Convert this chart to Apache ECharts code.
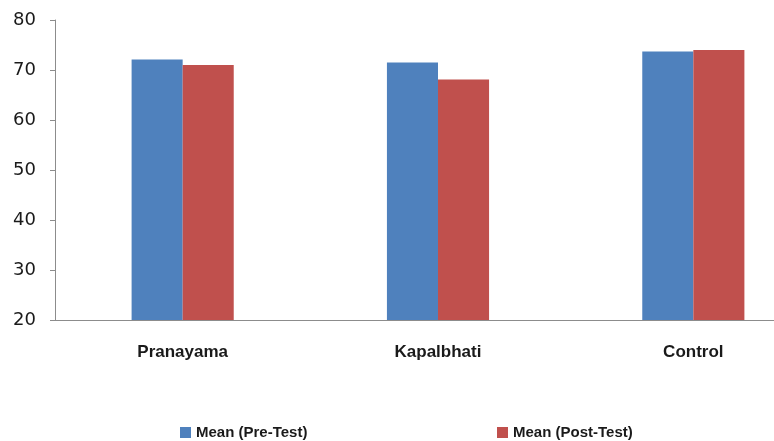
<!DOCTYPE html>
<html>
<head>
<meta charset="utf-8">
<script src="https://cdn.jsdelivr.net/npm/echarts@6/dist/echarts.min.js"></script>
<style>
  html, body { margin: 0; padding: 0; background: #fff; overflow: hidden; }
  /* the original figure is cropped on the right, so the chart is wider than the window */
  #main { width: 822px; height: 441px; }
</style>
</head>
<body>
<div id="main"></div>
<script>
var categories = ['Pranayama', 'Kapalbhati', 'Control'];
var preTest = [72.1, 71.5, 73.7];
var postTest = [71.0, 68.1, 74.0];
var seriesNames = ['Mean (Pre-Test)', 'Mean (Post-Test)'];

function build() {
    var myChart = echarts.init(document.getElementById('main'));
    var legendText = {
        fontFamily: 'Liberation Sans Narrow, Liberation Sans, sans-serif',
        fontWeight: 'bold',
        fontSize: 15,
        color: '#1a1a1a'
    };
    var option = {
        animation: false,
        grid: { left: 55, top: 20, width: 766, height: 300 },
        legend: [
            { data: [seriesNames[0]], left: 175, top: 420, icon: 'rect', itemWidth: 11, itemHeight: 11, itemGap: 4, textStyle: legendText },
            { data: [seriesNames[1]], left: 492, top: 420, icon: 'rect', itemWidth: 11, itemHeight: 11, itemGap: 4, textStyle: legendText }
        ],
        xAxis: {
            type: 'category',
            data: categories,
            axisLine: { lineStyle: { color: '#8c8c8c', width: 1 } },
            axisTick: { show: false },
            axisLabel: {
                margin: 24,
                fontFamily: 'Liberation Sans Narrow, Liberation Sans, sans-serif',
                fontWeight: 'bold',
                fontSize: 17,
                color: '#1a1a1a'
            }
        },
        yAxis: {
            type: 'value',
            min: 20,
            max: 80,
            interval: 10,
            axisLine: { show: true, lineStyle: { color: '#8c8c8c', width: 1 } },
            axisTick: { show: true, length: 5, lineStyle: { color: '#8c8c8c' } },
            splitLine: { show: false },
            axisLabel: {
                margin: 19,
                fontFamily: 'DejaVu Sans, sans-serif',
                fontSize: 18,
                color: '#1a1a1a'
            }
        },
        series: [
            {
                name: seriesNames[0],
                type: 'bar',
                data: preTest,
                barGap: '0%',
                barCategoryGap: '60%',
                itemStyle: { color: '#4f81bd' }
            },
            {
                name: seriesNames[1],
                type: 'bar',
                data: postTest,
                itemStyle: { color: '#c0504d' }
            }
        ]
    };
    myChart.setOption(option);
}

build();
</script>
</body>
</html>
